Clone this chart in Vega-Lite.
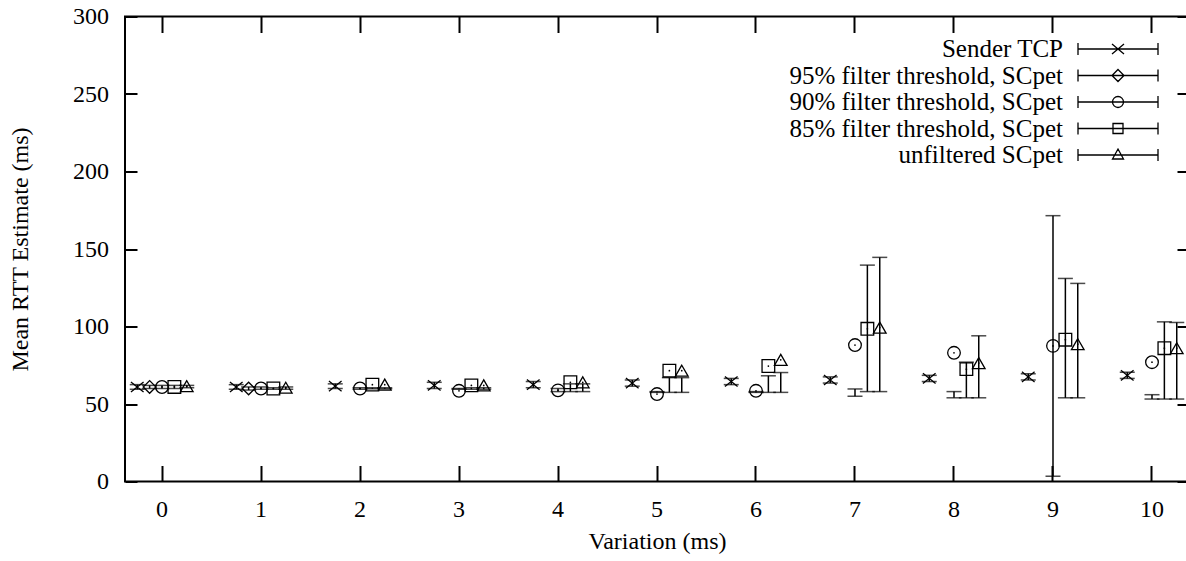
{
  "$schema": "https://vega.github.io/schema/vega-lite/v6.json",
  "width": 1064,
  "height": 465,
  "autosize": "none",
  "padding": {"left": 125, "top": 16.5, "right": 0, "bottom": 80},
  "background": "white",
  "config": {
    "font": "Liberation Serif",
    "view": {"stroke": "black", "strokeWidth": 2},
    "axis": {
      "grid": false, "domain": false, "tickColor": "black", "tickWidth": 2,
      "labelColor": "black", "titleColor": "black",
      "labelFont": "Liberation Serif", "titleFont": "Liberation Serif",
      "labelFontSize": 24, "titleFontSize": 24, "titleFontWeight": "normal"
    }
  },
  "data": {"values": [
    {"variation": 0, "series": "Sender TCP", "y": 61, "lo": 59.5, "hi": 62.5},
    {"variation": 1, "series": "Sender TCP", "y": 61, "lo": 59.5, "hi": 62.5},
    {"variation": 2, "series": "Sender TCP", "y": 61.5, "lo": 60, "hi": 63},
    {"variation": 3, "series": "Sender TCP", "y": 62, "lo": 60, "hi": 64},
    {"variation": 4, "series": "Sender TCP", "y": 62.5, "lo": 60.5, "hi": 64.5},
    {"variation": 5, "series": "Sender TCP", "y": 63.5, "lo": 61.5, "hi": 65.5},
    {"variation": 6, "series": "Sender TCP", "y": 64.5, "lo": 62.5, "hi": 66.5},
    {"variation": 7, "series": "Sender TCP", "y": 65.5, "lo": 63.5, "hi": 67.5},
    {"variation": 8, "series": "Sender TCP", "y": 66.5, "lo": 64.5, "hi": 68.5},
    {"variation": 9, "series": "Sender TCP", "y": 67.5, "lo": 65.5, "hi": 69.5},
    {"variation": 10, "series": "Sender TCP", "y": 68.5, "lo": 66.5, "hi": 70.5},
    {"variation": 0, "series": "95% filter threshold, SCpet", "y": 61, "lo": 60, "hi": 62},
    {"variation": 1, "series": "95% filter threshold, SCpet", "y": 60, "lo": 59, "hi": 61},
    {"variation": 0, "series": "90% filter threshold, SCpet", "y": 61, "lo": 60, "hi": 62},
    {"variation": 1, "series": "90% filter threshold, SCpet", "y": 60, "lo": 59.5, "hi": 61},
    {"variation": 2, "series": "90% filter threshold, SCpet", "y": 60, "lo": 59.5, "hi": 60.5},
    {"variation": 3, "series": "90% filter threshold, SCpet", "y": 58.5, "lo": 59.5, "hi": 60},
    {"variation": 4, "series": "90% filter threshold, SCpet", "y": 58.8, "lo": 58, "hi": 60},
    {"variation": 5, "series": "90% filter threshold, SCpet", "y": 56.4, "lo": 57.5, "hi": 58},
    {"variation": 6, "series": "90% filter threshold, SCpet", "y": 58.5, "lo": 57.5, "hi": 58},
    {"variation": 7, "series": "90% filter threshold, SCpet", "y": 88, "lo": 55, "hi": 59.7},
    {"variation": 8, "series": "90% filter threshold, SCpet", "y": 83, "lo": 54, "hi": 58},
    {"variation": 9, "series": "90% filter threshold, SCpet", "y": 87.5, "lo": 3.4, "hi": 171.5},
    {"variation": 10, "series": "90% filter threshold, SCpet", "y": 77, "lo": 53.2, "hi": 56},
    {"variation": 0, "series": "85% filter threshold, SCpet", "y": 61, "lo": 60, "hi": 62},
    {"variation": 1, "series": "85% filter threshold, SCpet", "y": 60, "lo": 59.5, "hi": 60.5},
    {"variation": 2, "series": "85% filter threshold, SCpet", "y": 62.5, "lo": 59.8, "hi": 60.5},
    {"variation": 3, "series": "85% filter threshold, SCpet", "y": 62, "lo": 59.5, "hi": 60.5},
    {"variation": 4, "series": "85% filter threshold, SCpet", "y": 64, "lo": 58, "hi": 63},
    {"variation": 5, "series": "85% filter threshold, SCpet", "y": 71.5, "lo": 57.5, "hi": 67},
    {"variation": 6, "series": "85% filter threshold, SCpet", "y": 74.5, "lo": 57.5, "hi": 68.2},
    {"variation": 7, "series": "85% filter threshold, SCpet", "y": 98.5, "lo": 58, "hi": 139.6},
    {"variation": 8, "series": "85% filter threshold, SCpet", "y": 72.5, "lo": 54, "hi": 77},
    {"variation": 9, "series": "85% filter threshold, SCpet", "y": 91.5, "lo": 54, "hi": 131},
    {"variation": 10, "series": "85% filter threshold, SCpet", "y": 86, "lo": 53.2, "hi": 103},
    {"variation": 0, "series": "unfiltered SCpet", "y": 61.5, "lo": 60.5, "hi": 62},
    {"variation": 1, "series": "unfiltered SCpet", "y": 60.5, "lo": 59.5, "hi": 61},
    {"variation": 2, "series": "unfiltered SCpet", "y": 62.5, "lo": 59.8, "hi": 60.5},
    {"variation": 3, "series": "unfiltered SCpet", "y": 62, "lo": 59.5, "hi": 60.5},
    {"variation": 4, "series": "unfiltered SCpet", "y": 64, "lo": 58, "hi": 63},
    {"variation": 5, "series": "unfiltered SCpet", "y": 71.5, "lo": 57.5, "hi": 67},
    {"variation": 6, "series": "unfiltered SCpet", "y": 78.5, "lo": 57.5, "hi": 70.3},
    {"variation": 7, "series": "unfiltered SCpet", "y": 99.3, "lo": 58, "hi": 144.6},
    {"variation": 8, "series": "unfiltered SCpet", "y": 76.4, "lo": 54, "hi": 94},
    {"variation": 9, "series": "unfiltered SCpet", "y": 88.6, "lo": 54, "hi": 127.8},
    {"variation": 10, "series": "unfiltered SCpet", "y": 86, "lo": 53.2, "hi": 102.6}
  ]},
  "resolve": {
    "scale": {"shape": "independent"},
    "axis": {"x": "independent", "y": "independent"}
  },
  "layer": [
    {
      "mark": {"type": "rule", "color": "black", "strokeWidth": 1.5},
      "encoding": {
        "x": {"field": "variation", "type": "ordinal",
          "scale": {"domain": [0,1,2,3,4,5,6,7,8,9,10], "paddingInner": 0.2525, "paddingOuter": 0},
          "axis": {"orient": "bottom", "labelAngle": 0, "tickSize": -16, "labelPadding": 32, "title": "Variation (ms)", "titlePadding": 8}},
        "xOffset": {"field": "series", "type": "nominal",
          "scale": {"type": "point", "padding": 0, "range": [12.25, 61.75],
            "domain": ["Sender TCP", "95% filter threshold, SCpet", "90% filter threshold, SCpet", "85% filter threshold, SCpet", "unfiltered SCpet"]}},
        "y": {"field": "lo", "type": "quantitative", "scale": {"domain": [0, 300], "nice": false},
          "axis": {"orient": "left", "values": [0,50,100,150,200,250,300], "tickSize": -12, "labelPadding": 28.5, "title": "Mean RTT Estimate (ms)", "titlePadding": 40}},
        "y2": {"field": "hi"}
      }
    },
    {
      "mark": {"type": "point", "shape": "M-1,0L1,0", "size": 225, "color": "black", "strokeWidth": 1.5, "filled": false},
      "encoding": {
        "x": {"field": "variation", "type": "ordinal", "axis": null},
        "xOffset": {"field": "series", "type": "nominal"},
        "y": {"field": "lo", "type": "quantitative", "axis": null}
      }
    },
    {
      "mark": {"type": "point", "shape": "M-1,0L1,0", "size": 225, "color": "black", "strokeWidth": 1.5, "filled": false},
      "encoding": {
        "x": {"field": "variation", "type": "ordinal", "axis": null},
        "xOffset": {"field": "series", "type": "nominal"},
        "y": {"field": "hi", "type": "quantitative", "axis": null}
      }
    },
    {
      "mark": {"type": "point", "color": "black", "strokeWidth": 1.3, "filled": false, "size": 160, "opacity": 1},
      "encoding": {
        "x": {"field": "variation", "type": "ordinal", "axis": null},
        "xOffset": {"field": "series", "type": "nominal"},
        "y": {"field": "y", "type": "quantitative", "axis": null},
        "shape": {"field": "series", "type": "nominal", "legend": null,
          "scale": {
            "domain": ["Sender TCP", "95% filter threshold, SCpet", "90% filter threshold, SCpet", "85% filter threshold, SCpet", "unfiltered SCpet"],
            "range": ["M-1,-0.8L1,0.8M-1,0.8L1,-0.8", "diamond", "circle", "square", "triangle-up"]}}
      }
    },
    {
      "transform": [{"filter": {"field": "series", "oneOf": ["90% filter threshold, SCpet", "85% filter threshold, SCpet", "unfiltered SCpet"]}}],
      "mark": {"type": "point", "color": "black", "filled": true, "size": 3, "shape": "circle", "opacity": 1},
      "encoding": {
        "x": {"field": "variation", "type": "ordinal", "axis": null},
        "xOffset": {"field": "series", "type": "nominal"},
        "y": {"field": "y", "type": "quantitative", "axis": null}
      }
    },
    {
      "transform": [{"filter": "false"}],
      "mark": {"type": "point", "color": "black", "strokeWidth": 1.3, "filled": false, "opacity": 1},
      "encoding": {
        "x": {"field": "variation", "type": "ordinal",
          "axis": {"orient": "top", "labels": false, "tickSize": -16, "title": null}},
        "y": {"field": "y", "type": "quantitative",
          "axis": {"orient": "right", "labels": false, "values": [0,50,100,150,200,250,300], "tickSize": -12, "title": null}},
        "shape": {"field": "series", "type": "nominal",
          "scale": {
            "domain": ["Sender TCP", "95% filter threshold, SCpet", "90% filter threshold, SCpet", "85% filter threshold, SCpet", "unfiltered SCpet"],
            "range": [
              "M2,0L18,0M2,-1.2L2,1.2M18,-1.2L18,1.2M8.8,-1L11.2,1M8.8,1L11.2,-1",
              "M2,0L18,0M2,-1.2L2,1.2M18,-1.2L18,1.2M10,-1.2L11.2,0L10,1.2L8.8,0Z",
              "M2,0L18,0M2,-1.2L2,1.2M18,-1.2L18,1.2M11.1,0A1.1,1.1,0,1,1,8.9,0A1.1,1.1,0,1,1,11.1,0Z",
              "M2,0L18,0M2,-1.2L2,1.2M18,-1.2L18,1.2M9,-1L11,-1L11,1L9,1Z",
              "M2,0L18,0M2,-1.2L2,1.2M18,-1.2L18,1.2M10,-1.2L11.1,0.8L8.9,0.8Z"
            ]},
          "legend": {
            "orient": "none", "legendX": 930.5, "legendY": 20,
            "title": null, "padding": 0,
            "symbolSize": 100, "symbolStrokeWidth": 1.3, "symbolStrokeColor": "black", "symbolFillColor": "transparent",
            "labelAlign": "right", "labelOffset": -17.5, "labelFont": "Liberation Serif", "labelFontSize": 25, "labelColor": "black",
            "labelLimit": 0, "rowPadding": 0.5
          }
        }
      }
    }
  ]
}
